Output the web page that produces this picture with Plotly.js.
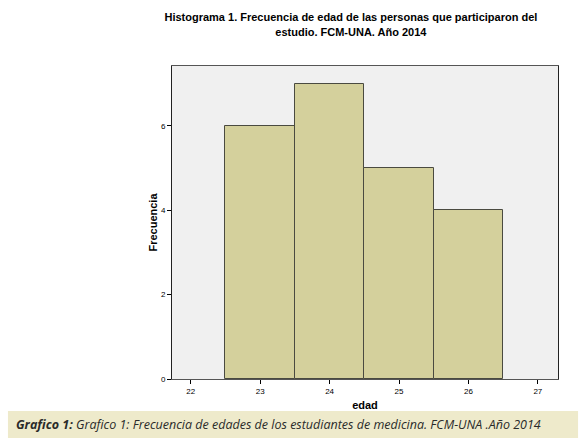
<!DOCTYPE html>
<html>
<head>
<meta charset="utf-8">
<script src="https://cdn.plot.ly/plotly-3.0.1.min.js"></script>
<style>
  html, body { margin: 0; padding: 0; background: #fff; }
  #chart { width: 580px; height: 446px; }
</style>
</head>
<body>
<div id="chart"></div>
<script>
  // Histogram of ages (SPSS-style output), one bar per age value.
  var edades = [23, 24, 25, 26];
  var frecuencias = [6, 7, 5, 4];
  var xTicks = [22, 23, 24, 25, 26, 27];
  var yTicks = [0, 2, 4, 6];

  var trace = {
    type: "bar",
    x: edades,
    y: frecuencias,
    width: 1,
    marker: { color: "#d4d09c", line: { color: "#4a4a40", width: 1 } },
    hoverinfo: "x+y"
  };

  var layout = {
    width: 580,
    height: 446,
    margin: { l: 172, r: 22, t: 66, b: 67 },
    paper_bgcolor: "#ffffff",
    plot_bgcolor: "#f0f0f0",
    showlegend: false,
    bargap: 0,
    title: {
      text: "<b>Histograma 1. Frecuencia de edad de las personas que participaron del<br>estudio. FCM-UNA. Año 2014</b>",
      font: { family: "Liberation Sans, Arial, sans-serif", size: 11, color: "#000" },
      x: 0.605, xanchor: "center", y: 0.952, yanchor: "top"
    },
    xaxis: {
      range: [21.73, 27.29],
      tickvals: xTicks,
      ticks: "outside", ticklen: 4, tickcolor: "#000",
      tickfont: { family: "Liberation Sans, Arial, sans-serif", size: 8, color: "#000" },
      showgrid: false, zeroline: false,
      showline: true, linecolor: "#555", mirror: true,
      title: { text: "<b>edad</b>", font: { family: "Liberation Sans, Arial, sans-serif", size: 11, color: "#000" }, standoff: 6 }
    },
    yaxis: {
      range: [0, 7.42],
      tickvals: yTicks,
      ticks: "outside", ticklen: 4, tickcolor: "#000",
      tickfont: { family: "Liberation Sans, Arial, sans-serif", size: 8, color: "#000" },
      showgrid: false, zeroline: false,
      showline: true, linecolor: "#222", mirror: true,
      title: { text: "<b>Frecuencia</b>", font: { family: "Liberation Sans, Arial, sans-serif", size: 11, color: "#000" }, standoff: 1 }
    },
    shapes: [{
      type: "rect", xref: "paper", yref: "paper",
      x0: -0.425, x1: 1.052, y0: -0.1885, y1: -0.102,
      fillcolor: "#eeeacb", line: { width: 0 }, layer: "below"
    }],
    annotations: [{
      xref: "paper", yref: "paper",
      x: -0.41, y: -0.146, xanchor: "left", yanchor: "middle",
      showarrow: false,
      text: "<b><i>Grafico 1:</i></b><i> Grafico 1: Frecuencia de edades de los estudiantes de medicina. FCM-UNA .Año 2014</i>",
      font: { family: "Open Sans, sans-serif", size: 12.5, color: "#2a2a2a" }
    }]
  };

  Plotly.newPlot("chart", [trace], layout, { displayModeBar: false, responsive: false });
</script>
</body>
</html>
